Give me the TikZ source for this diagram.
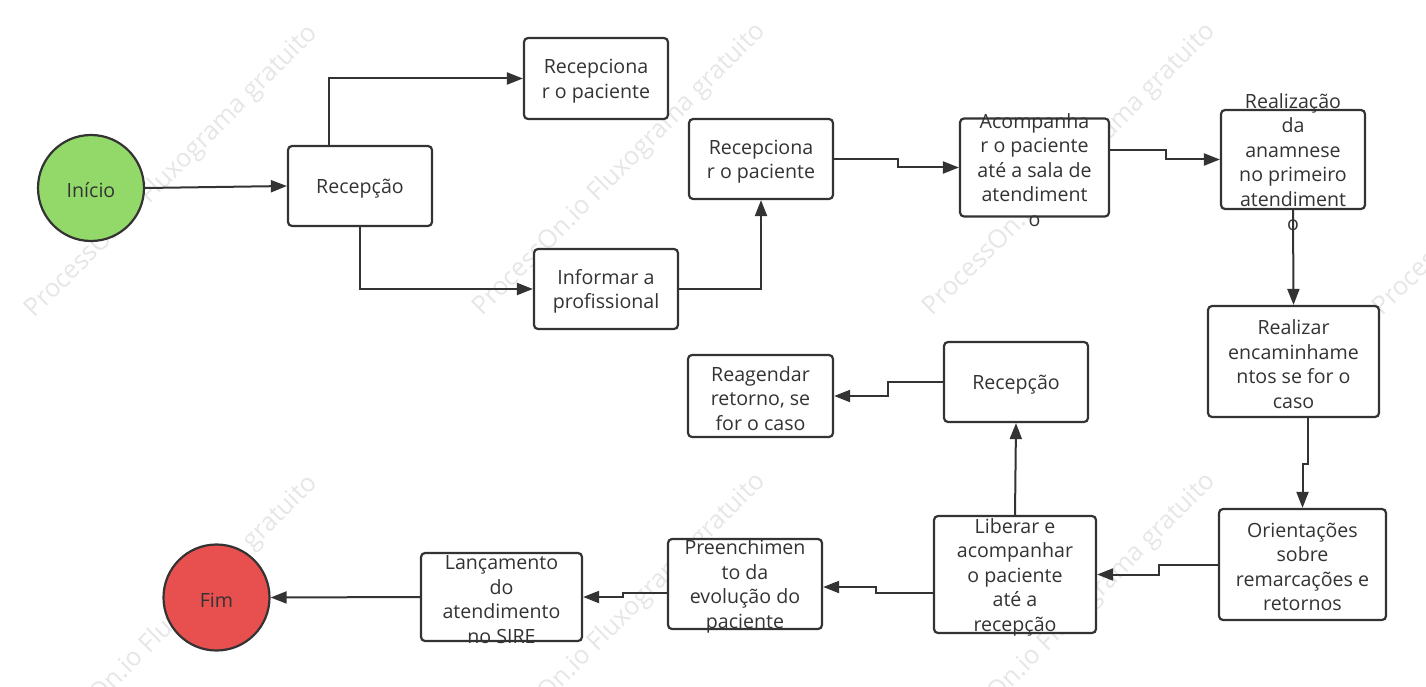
\documentclass[tikz,border=0pt]{standalone}
\usepackage{fontspec}
\setmainfont{Open Sans}
\usetikzlibrary{arrows.meta}
\definecolor{ink}{HTML}{333333}
\definecolor{startg}{HTML}{93D96A}
\definecolor{endr}{HTML}{E84F4F}
\definecolor{wm}{HTML}{E6E6E6}
\begin{document}
\begin{tikzpicture}[x=1pt,y=-1pt,
  box/.style={draw=ink, line width=2.2pt, rounded corners=4pt, fill=white, inner sep=0pt},
  circ/.style={circle, draw=ink, line width=2.2pt, minimum size=106pt, inner sep=0pt},
  txt/.style={text=ink, font=\fontsize{19.6}{24.5}\selectfont, align=center, inner sep=0pt, yshift=-2.5pt},
  conn/.style={draw=ink, line width=2pt, -{Triangle[length=16pt,width=12pt]}},
  wmark/.style={text=wm, font=\fontsize{25.5}{30}\selectfont, rotate=45, inner sep=0pt}]
\useasboundingbox (0,0) rectangle (1426,687);
% watermarks
\foreach \i/\cx/\cy in {1/172/172, 2/620/170, 3/1070/170, 4/1520/170, 5/172/622, 6/620/620, 7/1070/620}
  \node[wmark] (wm\i) at (\cx,\cy) {ProcessOn.io Fluxograma gratuito};
% nodes
\node[circ, fill=startg] (ini) at (91,188) {};
\node[txt] (ini-t) at (ini.center) {Início};
\node[box, minimum width=144pt, minimum height=80pt] (rec1) at (360,186) {};
\node[txt] (rec1-t) at (rec1.center) {Recepção};
\node[box, minimum width=144pt, minimum height=81pt] (rc1) at (596,78.5) {};
\node[txt] (rc1-t) at (rc1.center) {Recepciona\\r o paciente};
\node[box, minimum width=144pt, minimum height=80pt] (inf) at (606,289) {};
\node[txt] (inf-t) at (inf.center) {Informar a\\profissional};
\node[box, minimum width=144pt, minimum height=80pt] (rc2) at (761,159) {};
\node[txt] (rc2-t) at (rc2.center) {Recepciona\\r o paciente};
\node[box, minimum width=149pt, minimum height=98pt] (aco) at (1034.5,167.5) {};
\node[txt] (aco-t) at (aco.center) {Acompanha\\r o paciente\\até a sala de\\atendiment\\o};
\node[box, minimum width=144pt, minimum height=99pt] (rea) at (1293,159.5) {};
\node[txt] (rea-t) at (rea.center) {Realização\\da\\anamnese\\no primeiro\\atendiment\\o};
\node[box, minimum width=171pt, minimum height=111pt] (enc) at (1293.5,361.5) {};
\node[txt] (enc-t) at (enc.center) {Realizar\\encaminhame\\ntos se for o\\caso};
\node[box, minimum width=144pt, minimum height=80pt] (rec2) at (1016,382) {};
\node[txt] (rec2-t) at (rec2.center) {Recepção};
\node[box, minimum width=145pt, minimum height=82pt] (reag) at (760.5,396) {};
\node[txt] (reag-t) at (reag.center) {Reagendar\\retorno, se\\for o caso};
\node[box, minimum width=167pt, minimum height=111pt] (ori) at (1302.5,564.5) {};
\node[txt] (ori-t) at (ori.center) {Orientações\\sobre\\remarcações e\\retornos};
\node[box, minimum width=162pt, minimum height=117pt] (lib) at (1015,574.5) {};
\node[txt] (lib-t) at (lib.center) {Liberar e\\acompanhar\\o paciente\\até a\\recepção};
\node[box, minimum width=154pt, minimum height=90pt] (pre) at (745,584) {};
\node[txt] (pre-t) at (pre.center) {Preenchimen\\to da\\evolução do\\paciente};
\node[box, minimum width=161pt, minimum height=88pt] (lan) at (501.5,597) {};
\node[txt] (lan-t) at (lan.center) {Lançamento\\do\\atendimento\\no SIRE};
\node[circ, fill=endr] (fim) at (216.5,597.5) {};
\node[txt] (fim-t) at (fim.center) {Fim};
% connectors
\draw[conn] (ini.east) -- (rec1.west);
\draw[conn] ([xshift=-31pt]rec1.north) |- (rc1.west);
\draw[conn] (rec1.south) |- (inf.west);
\draw[conn] (inf.east) -| (rc2.south);
\draw[conn] (rc2.east) -- ++(64,0) |- (aco.west);
\draw[conn] ([yshift=17.5pt]aco.east) -- ++(56,0) |- (rea.west);
\draw[conn] (rea.south) -- (enc.north);
\draw[conn] ([xshift=14.5pt]enc.south) -- ++(0,46) -| (ori.north);
\draw[conn] (ori.west) -- ++(-59,0) |- (lib.east);
\draw[conn] (lib.north) -- (rec2.south);
\draw[conn] (rec2.west) -- ++(-55,0) |- (reag.east);
\draw[conn] ([yshift=-18.5pt]lib.west) -- ++(-57,0) |- ([yshift=-3pt]pre.east);
\draw[conn] ([yshift=-9pt]pre.west) -- ++(-43.5,0) |- (lan.east);
\draw[conn] (lan.west) -- (fim.east);
\end{tikzpicture}
\end{document}
